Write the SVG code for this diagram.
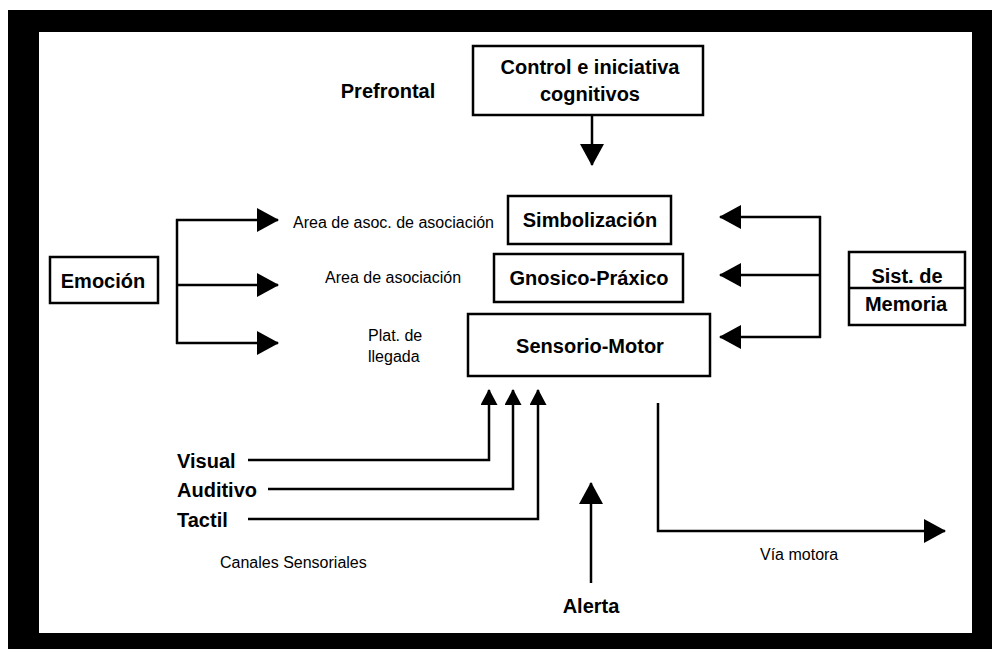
<svg xmlns="http://www.w3.org/2000/svg" width="992" height="649" viewBox="0 0 992 649">
<style>
.box{fill:#fff;stroke:#000;stroke-width:2.5}
.ln{fill:none;stroke:#000;stroke-width:2.5}
.big{font-family:"Liberation Sans",Arial,sans-serif;font-weight:bold;font-size:20px;fill:#000}
.sm{font-family:"Liberation Sans",Arial,sans-serif;font-size:16px;fill:#000}
.mid{text-anchor:middle}
</style>
<defs>
<marker id="ah" markerUnits="userSpaceOnUse" markerWidth="24" markerHeight="26" refX="21" refY="12" orient="auto" viewBox="0 0 24 26">
<path d="M0,0 L22,12 L0,24 z" fill="#000"/>
</marker>
<marker id="as" markerUnits="userSpaceOnUse" markerWidth="18" markerHeight="18" refX="15" refY="8.5" orient="auto" viewBox="0 0 18 18">
<path d="M0,0 L16,8.5 L0,17 z" fill="#000"/>
</marker>
</defs>
<rect width="992" height="649" fill="#fff"/>
<path d="M8,10 H992 V649 H8 Z M39,32 V633 H972 V32 Z" fill="#000" fill-rule="evenodd"/>

<g id="prefrontal"><text class="big mid" x="388" y="98">Prefrontal</text></g>
<g id="control">
<rect class="box" x="473" y="46" width="230" height="69"/>
<text class="big mid" x="590" y="74">Control e iniciativa</text>
<text class="big mid" x="590" y="101">cognitivos</text>
</g>
<g id="simbolizacion">
<rect class="box" x="508" y="196" width="163" height="48"/>
<text class="big mid" x="590" y="227">Simbolización</text>
</g>
<g id="gnosico">
<rect class="box" x="494" y="254" width="189" height="48"/>
<text class="big mid" x="589" y="285">Gnosico-Práxico</text>
</g>
<g id="sensorio">
<rect class="box" x="468" y="314" width="242" height="62"/>
<text class="big mid" x="590" y="353">Sensorio-Motor</text>
</g>
<g id="emocion">
<rect class="box" x="50" y="257" width="108" height="46"/>
<text class="big mid" x="103" y="288">Emoción</text>
</g>
<g id="memoria">
<rect class="box" x="849" y="252" width="116" height="73"/>
<line class="ln" x1="849" y1="288" x2="965" y2="288"/>
<text class="big mid" x="907" y="283">Sist. de</text>
<text class="big mid" x="906" y="311">Memoria</text>
</g>
<g id="labels">
<text class="sm" x="293" y="228">Area de asoc. de asociación</text>
<text class="sm" x="325" y="283">Area de asociación</text>
<text class="sm" x="368" y="341">Plat. de</text>
<text class="sm" x="368" y="362">llegada</text>
<text class="big" x="177" y="468">Visual</text>
<text class="big" x="177" y="497">Auditivo</text>
<text class="big" x="177" y="527">Tactil</text>
<text class="sm" x="220" y="568">Canales Sensoriales</text>
<text class="big mid" x="591" y="613">Alerta</text>
<text class="sm" x="760" y="560">Vía motora</text>
</g>
<g id="connectors">
<line class="ln" x1="592" y1="115" x2="592" y2="165" marker-end="url(#ah)"/>
<line class="ln" x1="177" y1="219" x2="177" y2="344"/>
<line class="ln" x1="176" y1="220" x2="278" y2="220" marker-end="url(#ah)"/>
<line class="ln" x1="176" y1="285" x2="278" y2="285" marker-end="url(#ah)"/>
<line class="ln" x1="176" y1="343" x2="278" y2="343" marker-end="url(#ah)"/>
<line class="ln" x1="820" y1="216" x2="820" y2="338"/>
<line class="ln" x1="821" y1="217" x2="720" y2="217" marker-end="url(#ah)"/>
<line class="ln" x1="821" y1="275" x2="720" y2="275" marker-end="url(#ah)"/>
<line class="ln" x1="821" y1="337" x2="720" y2="337" marker-end="url(#ah)"/>
<path class="ln" d="M248,460 H489 V390" marker-end="url(#as)"/>
<path class="ln" d="M268,489 H513 V390" marker-end="url(#as)"/>
<path class="ln" d="M248,519 H538 V390" marker-end="url(#as)"/>
<line class="ln" x1="591" y1="583" x2="591" y2="483" marker-end="url(#ah)"/>
<path class="ln" d="M658,403 V531 H945" marker-end="url(#ah)"/>
</g>
</svg>
